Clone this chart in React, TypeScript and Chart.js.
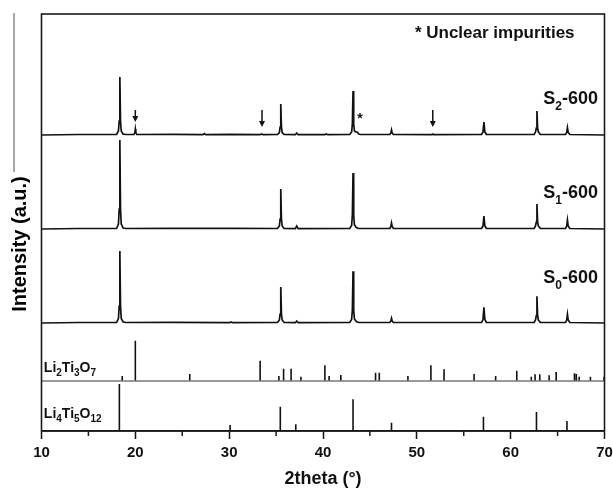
import { useEffect, useRef } from 'react';
import { Chart, registerables } from 'chart.js';

Chart.register(...registerables);

// ---- data (2theta in degrees, intensity in a.u.) ----
const S2_600: [number, number][] = [
  [10, 0], [14.0, 0.5], [18.0, 0.5], [18.2, 4], [18.28, 14], [18.35, 58], [18.42, 14], [18.5, 4], [18.7, 0.8], [19.0, 0.5],
  [19.85, 0.5], [19.95, 2.5], [20.0, 6], [20.05, 2.5], [20.15, 0.5],
  [24.0, 0.6], [27.2, 0.3], [27.35, 1.5], [27.5, 0.3], [30.2, 0.6],
  [33.3, 0.3], [33.45, 1], [33.6, 0.3],
  [35.15, 0.5], [35.35, 2.5], [35.43, 8], [35.5, 31], [35.57, 8], [35.65, 2.5], [35.85, 0.6],
  [37.05, 0.3], [37.2, 2], [37.35, 0.3],
  [40.2, 0.3], [40.35, 1], [40.5, 0.3],
  [42.85, 0.5], [43.05, 3], [43.13, 11], [43.2, 44], [43.27, 11], [43.35, 4], [43.5, 3], [43.65, 3], [43.8, 1], [44.0, 0.5],
  [47.12, 0.5], [47.23, 2], [47.3, 5], [47.37, 2], [47.5, 0.5],
  [51.6, 0.3], [51.7, 1], [51.8, 0.3],
  [56.9, 0.5], [57.05, 3], [57.15, 13], [57.25, 3], [57.4, 0.7],
  [62.5, 0.5], [62.65, 3], [62.73, 7], [62.8, 24], [62.87, 7], [62.95, 3], [63.15, 0.7],
  [65.85, 0.5], [65.97, 2.5], [66.05, 7.3], [66.13, 2.5], [66.3, 0.5],
  [70, 0],
];

const S1_600: [number, number][] = [
  [10, 0], [14.0, 0.5], [18.0, 0.5], [18.2, 5], [18.28, 20], [18.35, 89], [18.42, 20], [18.5, 5], [18.7, 1], [19.0, 0.5],
  [24.0, 0.6], [30.2, 0.6],
  [35.15, 0.5], [35.35, 3], [35.43, 10], [35.5, 40], [35.57, 10], [35.65, 3], [35.85, 0.6],
  [37.05, 0.3], [37.2, 3], [37.35, 0.3],
  [42.85, 0.5], [43.05, 3.5], [43.13, 14], [43.2, 56], [43.27, 14], [43.35, 4], [43.55, 1.5], [43.8, 0.5],
  [47.12, 0.5], [47.23, 2.5], [47.3, 6], [47.37, 2.5], [47.5, 0.5],
  [56.9, 0.5], [57.05, 3], [57.15, 13], [57.25, 3], [57.4, 0.7],
  [62.5, 0.5], [62.65, 3], [62.73, 7], [62.8, 25], [62.87, 7], [62.95, 3], [63.15, 0.7],
  [65.85, 0.5], [65.97, 3], [66.05, 9], [66.13, 3], [66.3, 0.5],
  [70, 0],
];

const S0_600: [number, number][] = [
  [10, 0], [14.0, 0.5], [18.0, 0.5], [18.2, 4.5], [18.28, 17], [18.35, 72], [18.42, 17], [18.5, 4.5], [18.7, 1], [19.0, 0.5],
  [24.0, 0.6], [30.05, 0.3], [30.2, 1], [30.35, 0.3],
  [35.15, 0.5], [35.35, 3], [35.43, 9], [35.5, 36], [35.57, 9], [35.65, 3], [35.85, 0.6],
  [37.05, 0.3], [37.2, 2], [37.35, 0.3],
  [42.85, 0.5], [43.05, 3.5], [43.13, 13], [43.2, 51.7], [43.27, 13], [43.35, 4], [43.55, 1.5], [43.8, 0.5],
  [47.12, 0.5], [47.23, 2], [47.3, 4.7], [47.37, 2], [47.5, 0.5],
  [56.9, 0.5], [57.05, 3.5], [57.15, 15.7], [57.25, 3.5], [57.4, 0.7],
  [62.5, 0.5], [62.65, 3], [62.73, 7.5], [62.8, 26.7], [62.87, 7.5], [62.95, 3], [63.15, 0.7],
  [65.85, 0.5], [65.97, 3], [66.05, 8.7], [66.13, 3], [66.3, 0.5],
  [70, 0],
];

const LI2TI3O7_POS = [18.6, 20.0, 25.8, 33.3, 35.3, 35.8, 36.6, 37.65, 40.2, 40.65, 41.9, 45.6, 46.0, 49.05, 51.5, 52.9, 56.1, 58.4, 60.65, 62.2, 62.6, 63.1, 64.1, 64.85, 66.8, 67.0, 67.3, 68.5, 69.95];
const LI2TI3O7_INT = [5, 40.3, 7, 20.3, 5, 12.3, 12.3, 4.3, 15.7, 5, 6, 8.3, 8.3, 5, 15.7, 11.7, 7, 5, 10.3, 4.3, 6.7, 6.7, 5.7, 9, 7.7, 7, 4.3, 4.3, 4.3];

const LI4TI5O12_POS = [18.3, 30.1, 35.45, 37.1, 43.2, 47.3, 57.1, 62.75, 66.0];
const LI4TI5O12_INT = [47, 6, 24.3, 6.7, 31.7, 8.3, 14.3, 19, 10];

// vertical offsets of the stacked patterns (a.u.)
const OFFSET_S2 = 296;
const OFFSET_S1 = 202;
const OFFSET_S0 = 108;
const OFFSET_LI2TI3O7 = 50;
const OFFSET_LI4TI5O12 = 0;

const ARROW_POS = [20.0, 33.5, 51.7];
const ARROW_TIP = [13, 8, 8];
const ARROW_TOP = 25;
const IMPURITY_POS = 43.95;
const IMPURITY_H = 19;

const X_MIN = 10;
const X_MAX = 70;
const Y_MAX = 417;
const MINOR_TICKS = [15, 25, 35, 45, 55, 65];

const FONT = '"Liberation Sans", Arial, Helvetica, sans-serif';

function shifted(pts: [number, number][], off: number) {
  return pts.map(([x, y]) => ({ x, y: y + off }));
}

function sticks(pos: number[], ints: number[], off: number) {
  const out: { x: number; y: number | null }[] = [];
  pos.forEach((p, i) => {
    out.push({ x: p, y: off });
    out.push({ x: p, y: off + ints[i] });
    out.push({ x: p, y: null });
  });
  return out;
}

function drawRich(
  ctx: CanvasRenderingContext2D,
  parts: { t: string; sub?: boolean }[],
  x: number,
  y: number,
  size: number,
  subSize: number,
  subDrop: number,
  align: 'left' | 'right'
) {
  const widths = parts.map((p) => {
    ctx.font = `bold ${p.sub ? subSize : size}px ${FONT}`;
    return ctx.measureText(p.t).width;
  });
  const total = widths.reduce((a, b) => a + b, 0);
  let cx = align === 'left' ? x : x - total;
  ctx.textAlign = 'left';
  ctx.textBaseline = 'alphabetic';
  parts.forEach((p, i) => {
    ctx.font = `bold ${p.sub ? subSize : size}px ${FONT}`;
    ctx.fillText(p.t, cx, p.sub ? y + subDrop : y);
    cx += widths[i];
  });
}

const decorPlugin = {
  id: 'decor',
  afterDraw(chart: any) {
    const { ctx, chartArea, scales } = chart;
    const xs = scales.x;
    const ys = scales.y;
    ctx.save();
    // frame
    ctx.strokeStyle = '#1a1a1a';
    ctx.lineWidth = 1.6;
    ctx.strokeRect(chartArea.left, chartArea.top, chartArea.right - chartArea.left, chartArea.bottom - chartArea.top);

    // minor ticks
    ctx.lineWidth = 1.5;
    MINOR_TICKS.forEach((v) => {
      const px = xs.getPixelForValue(v);
      ctx.beginPath();
      ctx.moveTo(px, chartArea.bottom);
      ctx.lineTo(px, chartArea.bottom + 5);
      ctx.stroke();
    });

    // stray line at the left edge
    ctx.strokeStyle = '#555';
    ctx.lineWidth = 1;
    ctx.beginPath();
    ctx.moveTo(14, chartArea.top - 1);
    ctx.lineTo(14, 172);
    ctx.stroke();

    ctx.fillStyle = '#111';
    ctx.strokeStyle = '#111';

    // arrows
    ARROW_POS.forEach((p, i) => {
      const px = xs.getPixelForValue(p);
      const yTop = ys.getPixelForValue(OFFSET_S2 + ARROW_TOP);
      const yTip = ys.getPixelForValue(OFFSET_S2 + ARROW_TIP[i]);
      ctx.lineWidth = 1.5;
      ctx.beginPath();
      ctx.moveTo(px, yTop);
      ctx.lineTo(px, yTip - 5);
      ctx.stroke();
      ctx.beginPath();
      ctx.moveTo(px - 3, yTip - 6);
      ctx.lineTo(px + 3, yTip - 6);
      ctx.lineTo(px, yTip);
      ctx.closePath();
      ctx.fill();
    });

    // asterisk
    ctx.font = `bold 14px ${FONT}`;
    ctx.textAlign = 'center';
    ctx.textBaseline = 'middle';
    ctx.fillText('*', xs.getPixelForValue(IMPURITY_POS), ys.getPixelForValue(OFFSET_S2 + IMPURITY_H) + 3);

    // note
    ctx.font = `bold 17px ${FONT}`;
    ctx.textAlign = 'center';
    ctx.textBaseline = 'alphabetic';
    ctx.fillText('* Unclear impurities', xs.getPixelForValue(58.3), ys.getPixelForValue(392.7));

    // sample labels
    const rx = xs.getPixelForValue(69.3);
    drawRich(ctx, [{ t: 'S' }, { t: '2', sub: true }, { t: '-600' }], rx, ys.getPixelForValue(OFFSET_S2 + 31), 18, 12, 6, 'right');
    drawRich(ctx, [{ t: 'S' }, { t: '1', sub: true }, { t: '-600' }], rx, ys.getPixelForValue(OFFSET_S1 + 31.5), 18, 12, 6, 'right');
    drawRich(ctx, [{ t: 'S' }, { t: '0', sub: true }, { t: '-600' }], rx, ys.getPixelForValue(OFFSET_S0 + 39.7), 18, 12, 6, 'right');

    // reference labels
    const lx = xs.getPixelForValue(10.25);
    drawRich(ctx, [{ t: 'Li' }, { t: '2', sub: true }, { t: 'Ti' }, { t: '3', sub: true }, { t: 'O' }, { t: '7', sub: true }], lx, ys.getPixelForValue(OFFSET_LI2TI3O7 + 8.7), 14, 10, 4, 'left');
    drawRich(ctx, [{ t: 'Li' }, { t: '4', sub: true }, { t: 'Ti' }, { t: '5', sub: true }, { t: 'O' }, { t: '12', sub: true }], lx, ys.getPixelForValue(OFFSET_LI4TI5O12 + 12.7), 14, 10, 4, 'left');

    // y-axis title
    ctx.save();
    ctx.translate(20, 244);
    ctx.rotate(-Math.PI / 2);
    ctx.font = `bold 20px ${FONT}`;
    ctx.textAlign = 'center';
    ctx.textBaseline = 'middle';
    ctx.fillStyle = '#000';
    ctx.fillText('Intensity (a.u.)', 0, 0);
    ctx.restore();

    ctx.restore();
  },
};

export default function App() {
  const ref = useRef<HTMLCanvasElement | null>(null);

  useEffect(() => {
    if (!ref.current) return;
    const lineDs = (data: any[], color: string, width: number) => ({
      data,
      borderColor: color,
      borderWidth: width,
      pointRadius: 0,
      fill: false,
      tension: 0,
      spanGaps: false,
    });
    const chart = new Chart(ref.current, {
      type: 'line',
      data: {
        datasets: [
          lineDs(shifted(S2_600, OFFSET_S2), '#111', 1.7),
          lineDs(shifted(S1_600, OFFSET_S1), '#111', 1.7),
          lineDs(shifted(S0_600, OFFSET_S0), '#111', 1.7),
          lineDs([{ x: X_MIN, y: OFFSET_LI2TI3O7 }, { x: X_MAX, y: OFFSET_LI2TI3O7 }], '#777', 1.3),
          lineDs(sticks(LI2TI3O7_POS, LI2TI3O7_INT, OFFSET_LI2TI3O7), '#111', 1.6),
          lineDs(sticks(LI4TI5O12_POS, LI4TI5O12_INT, OFFSET_LI4TI5O12), '#111', 1.6),
        ] as any,
      },
      options: {
        responsive: false,
        animation: false,
        layout: { padding: { left: 41.5, right: 8.5, top: 14, bottom: 0 } },
        plugins: { legend: { display: false }, tooltip: { enabled: false } },
        scales: {
          x: {
            type: 'linear',
            min: X_MIN,
            max: X_MAX,
            offset: false,
            afterFit: (s: any) => {
              s.height = 59;
              s.paddingLeft = 0;
              s.paddingRight = 0;
            },
            ticks: {
              stepSize: 5,
              autoSkip: false,
              maxRotation: 0,
              padding: 5,
              color: '#111',
              font: { family: FONT, size: 15, weight: 'bold' },
              callback: (v: any) => (Number(v) % 10 === 0 ? String(v) : ''),
            },
            grid: {
              drawOnChartArea: false,
              tickLength: 8,
              tickWidth: 1.5,
              tickColor: (c: any) => (c.tick && c.tick.value % 10 === 0 ? '#111' : 'rgba(0,0,0,0)'),
            },
            border: { display: true, color: '#111', width: 1.6 },
            title: {
              display: true,
              text: '2theta (°)',
              color: '#111',
              font: { family: FONT, size: 18, weight: 'bold' },
              padding: { top: 0, bottom: 0 },
            },
          },
          y: { display: false, min: 0, max: Y_MAX },
        },
      } as any,
      plugins: [decorPlugin],
    });
    return () => chart.destroy();
  }, []);

  return (
    <div style={{ position: 'fixed', left: 0, top: 0, width: 613, height: 490, background: '#fff' }}>
      <canvas ref={ref} width={613} height={490} style={{ display: 'block' }} />
    </div>
  );
}
